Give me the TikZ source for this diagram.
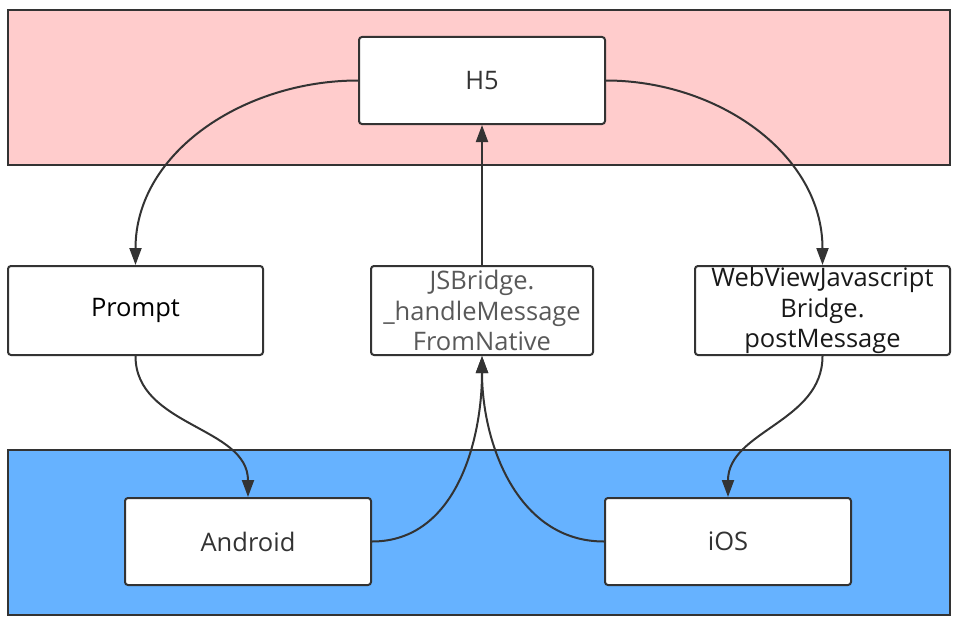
\documentclass[tikz,border=0pt]{standalone}
\usepackage{fontspec}
\setmainfont{Open Sans}
\usetikzlibrary{arrows.meta}
\definecolor{bandpink}{HTML}{FFCCCC}
\definecolor{bandblue}{HTML}{66B2FF}
\definecolor{edge}{HTML}{333333}
\tikzset{
  band/.style={draw=edge, line width=2pt, inner sep=0pt},
  box/.style={draw=edge, fill=white, line width=2pt, rounded corners=3pt,
    inner sep=0pt, align=center, font=\fontsize{25.5}{30.5}\selectfont},
  conn/.style={draw=edge, line width=2pt, -{Triangle[length=17pt,width=12pt]}},
}
\begin{document}
\begin{tikzpicture}[x=1pt,y=-1pt]
\useasboundingbox (0,0) rectangle (958,626);
\node[band, fill=bandpink, minimum width=942pt, minimum height=155pt] (top) at (479,87.5) {};
\node[band, fill=bandblue, minimum width=942pt, minimum height=165pt] (bottom) at (479,532.5) {};
\node[box, minimum width=246pt, minimum height=87pt, text=edge] (h5) at (482,80.5) {H5};
\node[box, minimum width=255pt, minimum height=89pt, text=black] (prompt) at (135.5,310.5) {Prompt};
\node[box, minimum width=222pt, minimum height=89pt, text=black!65] (jsb) at (482,310.5) {JSBridge.\\\_handleMessage\\FromNative};
\node[box, minimum width=255pt, minimum height=89pt, text=black!90] (wv) at (822.5,310.5) {WebViewJavascript\\Bridge.\\postMessage};
\node[box, minimum width=246pt, minimum height=87pt, text=edge] (android) at (248,541.5) {Android};
\node[box, minimum width=246pt, minimum height=87pt, text=edge] (ios) at (728,541.5) {iOS};
\draw[conn] (h5.west) to[out=180,in=90] (prompt.north);
\draw[conn] (h5.east) to[out=0,in=90] (wv.north);
\draw[conn] (jsb.north) -- (h5.south);
\draw[conn] (prompt.south) to[out=-90,in=90] (android.north);
\draw[conn] (wv.south) to[out=-90,in=90] (ios.north);
\draw[conn] (android.east) to[out=0,in=-90] (jsb.south);
\draw[conn] (ios.west) to[out=180,in=-90] (jsb.south);
\end{tikzpicture}
\end{document}
